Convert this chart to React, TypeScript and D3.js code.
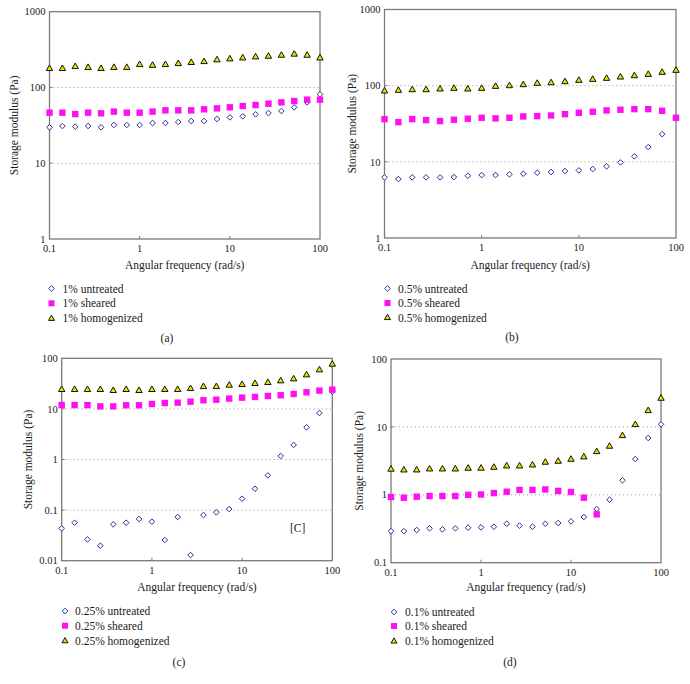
import React from "react";
import * as d3 from "d3";

const freq = [0.1, 0.139, 0.193, 0.268, 0.373, 0.518, 0.72, 1, 1.39, 1.93, 2.68, 3.73, 5.18, 7.2, 10, 13.9, 19.3, 26.8, 37.3, 51.8, 72, 100];

const untreatedA = [29.8, 31, 30.4, 31, 29.8, 32, 32, 32, 34, 34, 35, 36.1, 36.1, 38.4, 40.3, 41.6, 44.2, 46, 48.9, 54.7, 63.6, 81.2];
const shearedA = [46.5, 46.5, 44.6, 46.5, 45.6, 48, 46.5, 46.5, 48, 49.9, 49.9, 49.9, 51.5, 53, 54.7, 56.9, 58.7, 61.1, 63.6, 66.2, 69, 69];
const homogA = [179, 179, 190, 185, 179, 185, 185, 202, 197, 202, 208, 215, 221, 233, 240, 247, 255, 260, 268, 277, 268, 247];

const untreatedB = [6.25, 5.94, 6.25, 6.25, 6.25, 6.31, 6.57, 6.7, 6.7, 6.84, 6.98, 7.19, 7.34, 7.57, 7.72, 8.04, 8.71, 9.83, 11.8, 15.6, 23.1, null];
const shearedB = [36.4, 33.2, 36.4, 35.3, 34.3, 35.7, 36.8, 37.9, 37.2, 37.9, 39.4, 39.8, 40.6, 42.3, 44.1, 45.4, 47.3, 48.3, 49.2, 49.2, 46.8, 37.9];
const homogB = [85.7, 87.4, 89.1, 89.1, 91, 92.8, 91, 92.8, 98.6, 100.6, 103.7, 108, 110, 113.5, 118.2, 121.8, 125.6, 130.7, 136, 141.6, 150.5, 160];

const untreatedC = [0.0435, 0.0564, 0.0264, 0.0198, 0.0523, 0.0564, 0.0667, 0.059, 0.0256, 0.073, 0.01295, 0.08, 0.0903, 0.105, 0.168, 0.265, 0.486, 1.17, 1.94, 4.33, 8.3, 22];
const shearedC = [11.9, 11.9, 11.9, 11.2, 11.2, 11.8, 11.8, 12.5, 13.1, 13.3, 13.9, 14.8, 15.2, 16.0, 16.7, 17.2, 18.0, 18.6, 19.7, 21.3, 23.0, 24.0];
const homogC = [24.4, 24.4, 24.4, 24.4, 23.3, 24.4, 23.3, 24.4, 24.4, 24.4, 25.5, 27.9, 27.9, 29.7, 30.6, 32.1, 33.5, 36.2, 39.6, 47.5, 59.7, 77.3];

const untreatedD = [0.292, 0.292, 0.303, 0.321, 0.31, 0.321, 0.328, 0.331, 0.339, 0.375, 0.351, 0.339, 0.375, 0.384, 0.406, 0.471, 0.617, 0.847, 1.63, 3.36, 6.86, 10.9];
const shearedD = [0.927, 0.906, 0.938, 0.959, 0.959, 0.959, 1.0, 1.01, 1.06, 1.11, 1.18, 1.18, 1.2, 1.14, 1.1, 0.906, 0.515, null, null, null, null, null];
const homogD = [2.4, 2.34, 2.34, 2.42, 2.42, 2.42, 2.48, 2.48, 2.56, 2.68, 2.68, 2.77, 3.04, 3.14, 3.36, 3.64, 4.36, 5.23, 7.5, 10.9, 17.5, 26.6];

const xTicks = [0.1, 1, 10, 100];
const yTicksAB = [1, 10, 100, 1000];
const yTicksC = [0.01, 0.1, 1, 10, 100];
const yTicksD = [0.1, 1, 10, 100];

const concA = "1%";
const concB = "0.5%";
const concC = "0.25%";
const concD = "0.1%";
const seriesNames = ["untreated", "sheared", "homogenized"];
const captions = ["(a)", "(b)", "(c)", "(d)"];

const FONT = "Liberation Serif, DejaVu Serif, Times New Roman, serif";
const TXT = "#1a1a1a";
const AXIS = "#7a7a7a";
const DIAMOND = "#2e2e9a";
const MAGENTA = "#ff10f0";
const YELLOW = "#e4e400";

type Layout = {
  left: number; right: number; top: number; bottom: number;
  yTicks: number[]; ylabelX: number; xlabelY: number;
  legMarkX: number; legTextX: number; legRows: number[];
  capX: number; capY: number;
};

const layouts: Layout[] = [
  { left: 49.5, right: 320, top: 11.7, bottom: 239, yTicks: yTicksAB, ylabelX: 14, xlabelY: 265, legMarkX: 51.5, legTextX: 62.5, legRows: [288.5, 303.3, 318.3], capX: 167, capY: 338 },
  { left: 384.5, right: 676, top: 9.5, bottom: 238, yTicks: yTicksAB, ylabelX: 352, xlabelY: 265, legMarkX: 387.5, legTextX: 398, legRows: [288.5, 303, 317.5], capX: 512, capY: 337 },
  { left: 61.7, right: 332.3, top: 358.3, bottom: 560.7, yTicks: yTicksC, ylabelX: 28, xlabelY: 587, legMarkX: 65, legTextX: 75, legRows: [611, 625.7, 640.7], capX: 179, capY: 662 },
  { left: 391, right: 661, top: 359, bottom: 562.7, yTicks: yTicksD, ylabelX: 359, xlabelY: 587, legMarkX: 394, legTextX: 405, legRows: [612, 626, 641], capX: 510, capY: 662 },
];

const panelData = [
  { conc: concA, u: untreatedA, s: shearedA, h: homogA },
  { conc: concB, u: untreatedB, s: shearedB, h: homogB },
  { conc: concC, u: untreatedC, s: shearedC, h: homogC, note: "[C]" },
  { conc: concD, u: untreatedD, s: shearedD, h: homogD },
];

const Diamond = ({ x, y, r = 2.8 }: { x: number; y: number; r?: number }) => (
  <path d={`M${x},${y - r}L${x + r},${y}L${x},${y + r}L${x - r},${y}Z`} fill="#fff" stroke={DIAMOND} strokeWidth={1} />
);
const Square = ({ x, y, s = 6.4 }: { x: number; y: number; s?: number }) => (
  <rect x={x - s / 2} y={y - s / 2} width={s} height={s} fill={MAGENTA} />
);
const Triangle = ({ x, y, s = 6.4 }: { x: number; y: number; s?: number }) => {
  const h = s * 0.87;
  return <path d={`M${x},${y - h * 0.6}L${x + s / 2},${y + h * 0.4}L${x - s / 2},${y + h * 0.4}Z`} fill={YELLOW} stroke="#111" strokeWidth={1} strokeLinejoin="miter" />;
};

const fmt = (v: number) => String(v);

function Panel({ L, D }: { L: Layout; D: any }) {
  const x = d3.scaleLog().domain([0.1, 100]).range([L.left, L.right]);
  const yd = [L.yTicks[0], L.yTicks[L.yTicks.length - 1]];
  const y = d3.scaleLog().domain(yd).range([L.bottom, L.top]);
  const midY = (L.top + L.bottom) / 2;
  const midX = (L.left + L.right) / 2;
  const pts = (arr: (number | null)[]) =>
    arr.map((v, i) => (v == null ? null : { x: x(freq[i]), y: y(v as number), k: i })).filter(Boolean) as { x: number; y: number; k: number }[];
  const ts = { fontFamily: FONT };
  return (
    <g>
      {L.yTicks.slice(1, -1).map((t) => (
        <line key={"g" + t} x1={L.left} x2={L.right} y1={y(t)} y2={y(t)} stroke="#9a9a9a" strokeWidth={1} strokeDasharray="1,3" />
      ))}
      {L.yTicks.slice(1, -1).map((t) => (
        <line key={"ty" + t} x1={L.left} x2={L.left + 3} y1={y(t)} y2={y(t)} stroke={AXIS} strokeWidth={1} />
      ))}
      {xTicks.slice(1, -1).map((t) => (
        <line key={"tx" + t} x1={x(t)} x2={x(t)} y1={L.bottom} y2={L.bottom - 3} stroke={AXIS} strokeWidth={1} />
      ))}
      <rect x={L.left} y={L.top} width={L.right - L.left} height={L.bottom - L.top} fill="none" stroke={AXIS} strokeWidth={1.3} />
      {L.yTicks.map((t) => (
        <text key={"yl" + t} style={ts} x={L.left - 4} y={y(t)} dy="0.35em" textAnchor="end" fontSize={10.5} fill={TXT}>{fmt(t)}</text>
      ))}
      {xTicks.map((t) => (
        <text key={"xl" + t} style={ts} x={x(t)} y={L.bottom + 13} textAnchor="middle" fontSize={10.5} fill={TXT}>{fmt(t)}</text>
      ))}
      <text style={ts} x={midX} y={L.xlabelY} dy="0.35em" textAnchor="middle" fontSize={11.5} fill={TXT}>Angular frequency (rad/s)</text>
      <text style={ts} transform={`translate(${L.ylabelX},${midY}) rotate(-90)`} dy="0.35em" textAnchor="middle" fontSize={11.5} fill={TXT}>Storage modulus (Pa)</text>
      {pts(D.u).map((p) => <Diamond key={"u" + p.k} x={p.x} y={p.y} />)}
      {pts(D.s).map((p) => <Square key={"s" + p.k} x={p.x} y={p.y} />)}
      {pts(D.h).map((p) => <Triangle key={"h" + p.k} x={p.x} y={p.y} />)}
      {D.note && (
        <text style={ts} x={x(37.3) + 4} y={y(0.045)} dy="0.35em" textAnchor="middle" fontSize={11.5} fill={TXT}>{D.note}</text>
      )}
      <Diamond x={L.legMarkX} y={L.legRows[0]} />
      <Square x={L.legMarkX} y={L.legRows[1]} s={6} />
      <Triangle x={L.legMarkX} y={L.legRows[2]} s={6} />
      {seriesNames.map((n, i) => (
        <text key={n} style={ts} x={L.legTextX} y={L.legRows[i]} dy="0.35em" fontSize={11.5} fill={TXT}>{`${D.conc} ${n}`}</text>
      ))}
    </g>
  );
}

export default function App() {
  return (
    <svg width={690} height={684} style={{ position: "absolute", left: 0, top: 0, background: "#fff", fontFamily: FONT }}>
      <rect width={690} height={684} fill="#fff" />
      {layouts.map((L, i) => (
        <g key={i}>
          <Panel L={L} D={panelData[i]} />
          <text style={{ fontFamily: FONT }} x={L.capX} y={L.capY} dy="0.35em" textAnchor="middle" fontSize={11.5} fill={TXT}>{captions[i]}</text>
        </g>
      ))}
    </svg>
  );
}
